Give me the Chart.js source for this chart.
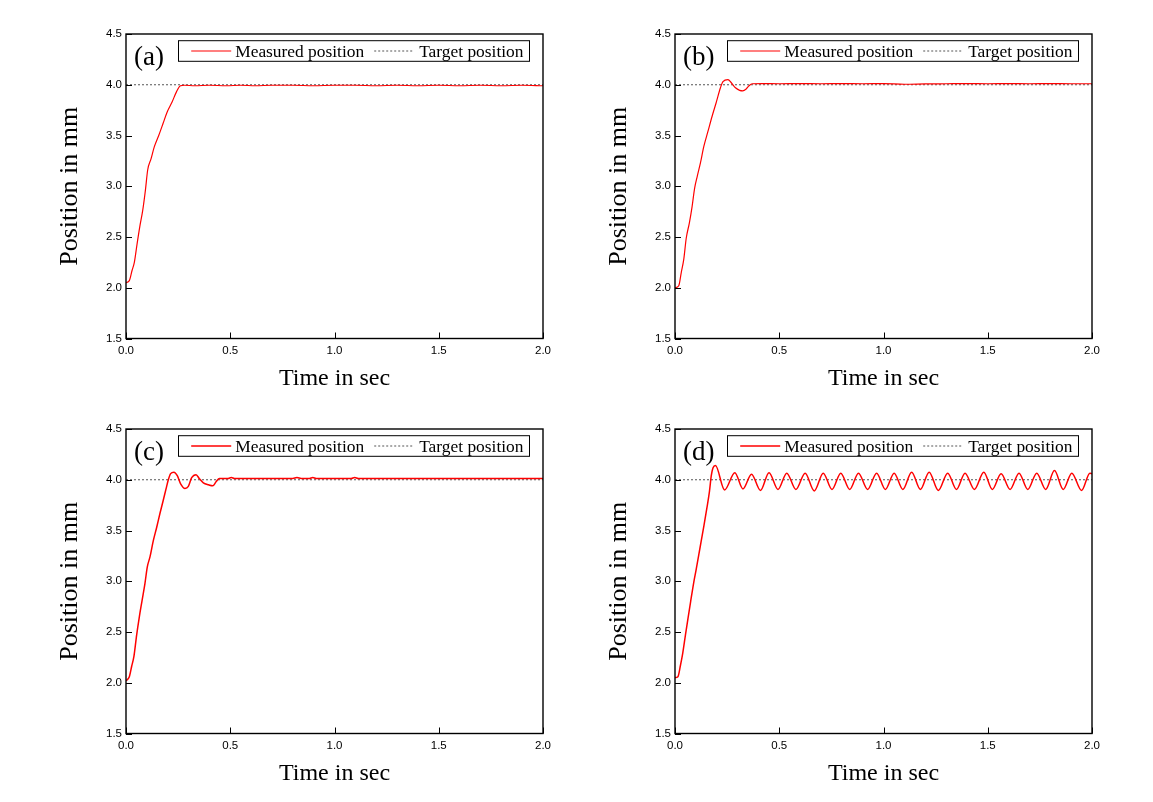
<!DOCTYPE html>
<html>
<head>
<meta charset="utf-8">
<script src="https://cdn.jsdelivr.net/npm/chart.js@4.4.0/dist/chart.umd.min.js"></script>
<style>
  html, body { margin: 0; padding: 0; background: #fff; }
  body { width: 1153px; height: 802px; position: relative; overflow: hidden; }
  .panel { position: absolute; width: 576px; height: 401px; }
</style>
</head>
<body>
<div class="panel" style="left:0px;top:0px"><canvas id="chartA" width="576" height="401"></canvas></div>
<div class="panel" style="left:549px;top:0px"><canvas id="chartB" width="576" height="401"></canvas></div>
<div class="panel" style="left:0px;top:395px"><canvas id="chartC" width="576" height="401"></canvas></div>
<div class="panel" style="left:549px;top:395px"><canvas id="chartD" width="576" height="401"></canvas></div>
<script>
// axis ticks and labels
const xTicks = [0, 0.5, 1.0, 1.5, 2.0];
const yTicks = [1.5, 2.0, 2.5, 3.0, 3.5, 4.0, 4.5];
const xTitle = "Time in sec";
const yTitle = "Position in mm";
const seriesNames = ["Measured position", "Target position"];
const panelLabels = ["(a)", "(b)", "(c)", "(d)"];
const targetPos = 4.0;

// (a) measured position
const timeA = [0, 0.016, 0.029, 0.04, 0.053, 0.066, 0.08, 0.093, 0.104, 0.12, 0.136, 0.157, 0.178, 0.197, 0.221, 0.242, 0.261,
  0.28, 0.33, 0.4, 0.48, 0.55, 0.62, 0.7, 0.8, 0.9, 1.0, 1.1, 1.2, 1.3, 1.4, 1.5, 1.6, 1.7, 1.8, 1.9, 2.0];
const posA = [2.05, 2.07, 2.17, 2.25, 2.43, 2.60, 2.76, 2.96, 3.16, 3.27, 3.39, 3.50, 3.62, 3.73, 3.83, 3.93, 3.99,
  3.995, 3.99, 3.995, 3.99, 3.995, 3.99, 3.995, 3.995, 3.99, 3.995, 3.995, 3.99, 3.995, 3.99, 3.995, 3.99, 3.995, 3.99, 3.995, 3.99];

// (b) measured position
const timeB = [0, 0.018, 0.03, 0.042, 0.054, 0.069, 0.082, 0.094, 0.107, 0.122, 0.138, 0.158, 0.178, 0.197, 0.218, 0.23, 0.254,
  0.27, 0.29, 0.31, 0.325, 0.34, 0.355, 0.37, 0.42, 0.5, 0.6, 0.7, 0.8, 0.9, 1.0, 1.1, 1.2, 1.3, 1.4, 1.5, 1.6, 1.7, 1.8, 1.9, 2.0];
const posB = [2.0, 2.02, 2.15, 2.28, 2.49, 2.64, 2.80, 2.98, 3.10, 3.23, 3.39, 3.54, 3.69, 3.82, 3.97, 4.03, 4.05,
  4.02, 3.97, 3.945, 3.94, 3.955, 3.99, 4.01, 4.012, 4.01, 4.012, 4.01, 4.012, 4.01, 4.012, 4.005, 4.008, 4.01, 4.012, 4.01, 4.012, 4.01, 4.012, 4.01, 4.01];

// (c) measured position
const timeC = [0, 0.016, 0.027, 0.038, 0.051, 0.064, 0.077, 0.091, 0.102, 0.115, 0.131, 0.147, 0.163, 0.179, 0.192, 0.203, 0.214,
  0.23, 0.246, 0.262, 0.283, 0.299, 0.315, 0.336, 0.352, 0.371, 0.395, 0.416, 0.432, 0.448, 0.49, 0.505, 0.52,
  0.8, 0.82, 0.84, 0.88, 0.896, 0.912, 1.08, 1.097, 1.114, 1.3, 1.5, 1.7, 1.9, 2.0];
const posC = [2.02, 2.06, 2.16, 2.26, 2.47, 2.65, 2.81, 2.98, 3.14, 3.24, 3.40, 3.53, 3.67, 3.80, 3.91, 4.0, 4.06,
  4.075, 4.04, 3.96, 3.915, 3.935, 4.02, 4.05, 4.01, 3.97, 3.95, 3.94, 3.98, 4.013, 4.013, 4.022, 4.013,
  4.013, 4.022, 4.013, 4.013, 4.022, 4.013, 4.013, 4.022, 4.013, 4.013, 4.013, 4.013, 4.013, 4.013];

// (d) measured position
const timeD = [0, 0.014, 0.026, 0.037, 0.05, 0.062, 0.075, 0.09, 0.101, 0.114, 0.126, 0.139, 0.152, 0.165, 0.174, 0.182,
  0.194, 0.238, 0.287, 0.326, 0.367, 0.41, 0.451, 0.494, 0.536, 0.58, 0.624, 0.668, 0.711, 0.753, 0.795, 0.838, 0.88, 0.924,
  0.967, 1.009, 1.051, 1.093, 1.135, 1.177, 1.219, 1.263, 1.308, 1.35, 1.391, 1.436, 1.481, 1.522, 1.564, 1.607, 1.65, 1.692,
  1.735, 1.778, 1.82, 1.862, 1.903, 1.95, 1.99, 2.0];
const posD = [2.05, 2.06, 2.17, 2.29, 2.47, 2.63, 2.80, 2.99, 3.11, 3.26, 3.40, 3.55, 3.71, 3.88, 4.04, 4.115,
  4.14, 3.90, 4.07, 3.91, 4.055, 3.895, 4.07, 3.905, 4.065, 3.905, 4.065, 3.89, 4.065, 3.905, 4.065, 3.905, 4.065, 3.905,
  4.065, 3.905, 4.065, 3.905, 4.075, 3.905, 4.075, 3.895, 4.065, 3.905, 4.065, 3.905, 4.075, 3.905, 4.06, 3.905, 4.065, 3.905,
  4.065, 3.905, 4.09, 3.905, 4.065, 3.895, 4.065, 4.06];

const serif = "'Liberation Serif', 'Times New Roman', serif";
const sans = "'Liberation Sans', Arial, sans-serif";

// frame, inner ticks, boxed legend and panel letter
const framePlugin = {
  id: "frame",
  afterDraw(chart, args, opts) {
    const ctx = chart.ctx;
    const a = chart.chartArea;
    const xs = chart.scales.x, ys = chart.scales.y;
    ctx.save();
    ctx.strokeStyle = "#000";
    ctx.lineWidth = 1;
    ctx.beginPath();
    xTicks.forEach(v => {
      const px = Math.round(xs.getPixelForValue(v)) + 0.5;
      ctx.moveTo(px, a.bottom);
      ctx.lineTo(px, a.bottom - 6);
    });
    yTicks.forEach(v => {
      const py = Math.round(ys.getPixelForValue(v)) + 0.5;
      ctx.moveTo(a.left, py);
      ctx.lineTo(a.left + 6, py);
    });
    ctx.stroke();
    ctx.lineWidth = 1.4;
    ctx.strokeRect(a.left, a.top, a.right - a.left, a.bottom - a.top);

    // legend box
    const bw = 351, bh = 20.6;
    const bx = a.right - 13.5 - bw, by = a.top + 6.7;
    ctx.fillStyle = "#fff";
    ctx.fillRect(bx, by, bw, bh);
    ctx.lineWidth = 1;
    ctx.strokeRect(bx, by, bw, bh);
    const my = by + bh / 2;
    const ds = chart.data.datasets;
    ctx.strokeStyle = ds[0].borderColor;
    ctx.lineWidth = ds[0].borderWidth;
    ctx.beginPath();
    ctx.moveTo(bx + 12.7, my);
    ctx.lineTo(bx + 52.7, my);
    ctx.stroke();
    ctx.strokeStyle = ds[1].borderColor;
    ctx.lineWidth = ds[1].borderWidth;
    ctx.setLineDash(ds[1].borderDash);
    ctx.beginPath();
    ctx.moveTo(bx + 195.7, my);
    ctx.lineTo(bx + 235.7, my);
    ctx.stroke();
    ctx.setLineDash([]);
    ctx.fillStyle = "#000";
    ctx.font = "17.4px " + serif;
    ctx.textBaseline = "alphabetic";
    ctx.fillText(ds[0].label, bx + 56.7, by + 15.8);
    ctx.fillText(ds[1].label, bx + 240.7, by + 15.8);

    // panel letter
    ctx.font = "27px " + serif;
    ctx.fillText(opts.label, a.left + 8, a.top + 31.2);
    ctx.restore();
  }
};

function makeChart(id, label, time, pos, lw) {
  const measured = time.map((t, i) => ({ x: t, y: pos[i] }));
  const target = [{ x: xTicks[0], y: targetPos }, { x: xTicks[xTicks.length - 1], y: targetPos }];
  return new Chart(document.getElementById(id), {
    type: "line",
    data: {
      datasets: [{
        label: seriesNames[0],
        data: measured,
        borderColor: "#ff0000",
        borderWidth: lw,
        pointRadius: 0,
        cubicInterpolationMode: "monotone",
        fill: false,
      }, {
        label: seriesNames[1],
        data: target,
        borderColor: "#555555",
        borderWidth: 1,
        borderDash: [2, 2],
        pointRadius: 0,
        fill: false,
      }],
    },
    options: {
      responsive: false,
      animation: false,
      layout: { padding: { left: 0, right: 33, top: 34, bottom: 0 } },
      plugins: {
        legend: { display: false },
        tooltip: { enabled: false },
        frame: { label: label },
      },
      scales: {
        x: {
          type: "linear",
          min: xTicks[0],
          max: xTicks[xTicks.length - 1],
          afterBuildTicks: s => { s.ticks = xTicks.map(v => ({ value: v })); },
          afterFit: s => { s.height = 62.5; },
          grid: { display: false, drawTicks: false },
          border: { display: false },
          ticks: {
            autoSkip: false, maxRotation: 0, padding: 5, color: "#000",
            font: { family: sans, size: 11.5 },
            callback: v => v.toFixed(1),
          },
          title: {
            display: true, text: xTitle, color: "#000",
            font: { family: serif, size: 24, lineHeight: 1.2 },
            padding: { top: 0, bottom: 7.9 },
          },
        },
        y: {
          type: "linear",
          min: yTicks[0],
          max: yTicks[yTicks.length - 1],
          afterBuildTicks: s => { s.ticks = yTicks.map(v => ({ value: v })); },
          afterFit: s => { s.width = 126; },
          grid: { display: false, drawTicks: false },
          border: { display: false },
          ticks: {
            autoSkip: false, padding: 4, color: "#000",
            font: { family: sans, size: 11.5 },
            callback: v => v.toFixed(1),
          },
          title: {
            display: true, text: yTitle, color: "#000",
            font: { family: serif, size: 26, lineHeight: 1.2 },
            padding: { top: 55, bottom: 0 },
          },
        },
      },
    },
    plugins: [framePlugin],
  });
}

makeChart("chartA", panelLabels[0], timeA, posA, 1.2);
makeChart("chartB", panelLabels[1], timeB, posB, 1.2);
makeChart("chartC", panelLabels[2], timeC, posC, 1.5);
makeChart("chartD", panelLabels[3], timeD, posD, 1.5);
</script>
</body>
</html>
